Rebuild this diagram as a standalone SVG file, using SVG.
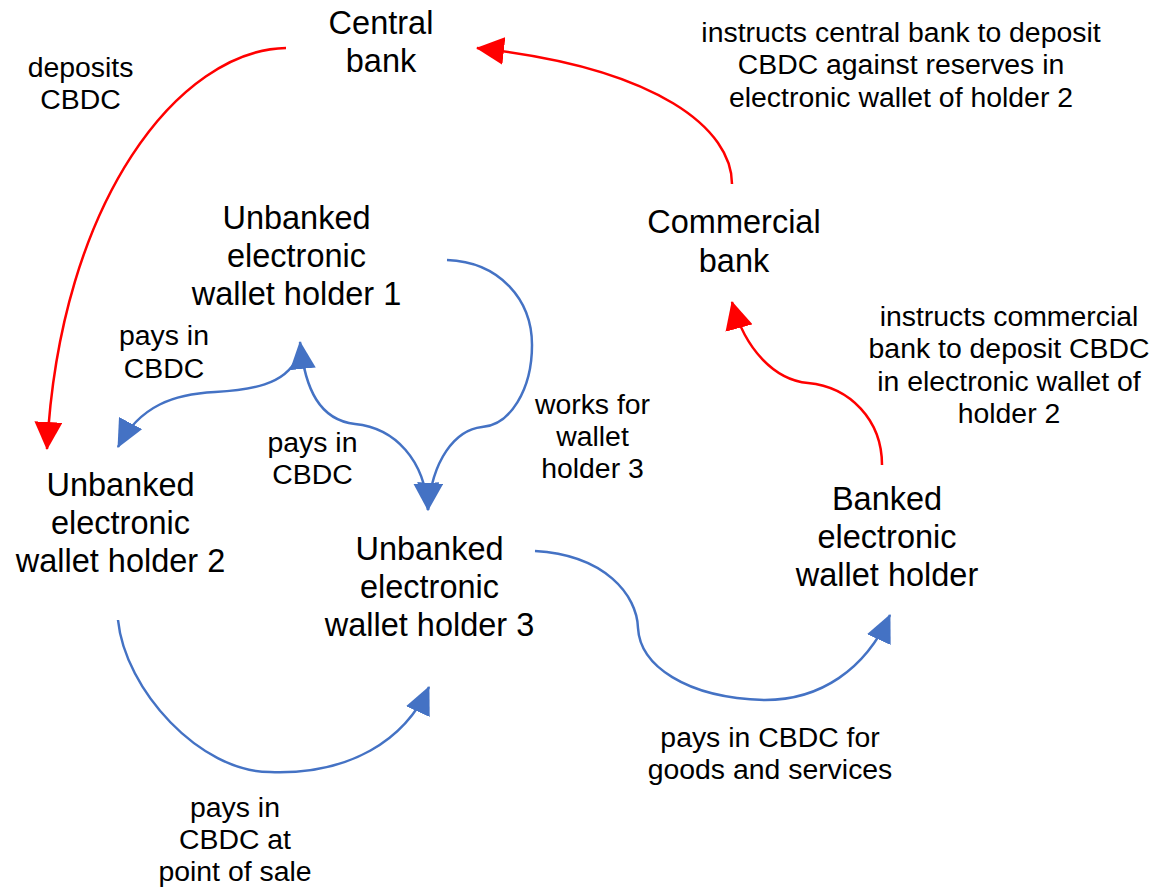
<svg xmlns="http://www.w3.org/2000/svg" width="1154" height="888" viewBox="0 0 1154 888">
<style>
.node{font-family:"Liberation Sans",Arial,sans-serif;font-size:32.5px;fill:#000;text-anchor:middle}
.lbl{font-family:"Liberation Sans",Arial,sans-serif;font-size:28.4px;fill:#000;text-anchor:middle}
.blue{fill:none;stroke:#4472C4;stroke-width:2.5}
.red{fill:none;stroke:#FF0000;stroke-width:2.5}
</style>
<defs>
<marker id="ab" viewBox="0 0 28 26" markerUnits="userSpaceOnUse" markerWidth="28" markerHeight="26" refX="27" refY="13" orient="auto-start-reverse"><path d="M0,0 L28,13 L0,26 z" fill="#4472C4"/></marker>
<marker id="ar" viewBox="0 0 28 28" markerUnits="userSpaceOnUse" markerWidth="28" markerHeight="28" refX="27" refY="14" orient="auto-start-reverse"><path d="M0,0 L28,14 L0,28 z" fill="#FF0000"/></marker>
</defs>
<rect width="1154" height="888" fill="#fff"/>
<g id="connectors">
<path class="red" d="M286,48 C180,50 60,200 47,449" marker-end="url(#ar)"/>
<path class="red" d="M732,184 C732,130 660,68 477,48" marker-end="url(#ar)"/>
<path class="red" d="M882,465 C882,420 850,387 808,383 C775,380 745,350 732,302" marker-end="url(#ar)"/>
<path class="blue" d="M297,358 C285,385 250,390 215,392 C175,394 140,405 118,447" marker-end="url(#ab)"/>
<path class="blue" d="M300,342 C305,390 320,420 355,424 C395,428 425,460 428,510" marker-start="url(#ab)" marker-end="url(#ab)"/>
<path class="blue" d="M447,260 C500,262 532,300 532,345 C532,390 510,425 482,427 C455,430 432,460 428,510" marker-end="url(#ab)"/>
<path class="blue" d="M118,620 C125,690 200,772 270,772 C350,775 405,740 429,687" marker-end="url(#ab)"/>
<path class="blue" d="M535,551 C605,555 637,595 638,628 C640,665 685,698 765,700 C820,700 865,670 890,615" marker-end="url(#ab)"/>
</g>
<g id="labels">
<text class="lbl"><tspan x="80.5" y="77">deposits</tspan><tspan x="80.5" y="109">CBDC</tspan></text>
<text class="lbl"><tspan x="901" y="42">instructs central bank to deposit</tspan><tspan x="901" y="74">CBDC against reserves in</tspan><tspan x="901" y="107">electronic wallet of holder 2</tspan></text>
<text class="lbl"><tspan x="1009" y="326">instructs commercial</tspan><tspan x="1009" y="358">bank to deposit CBDC</tspan><tspan x="1009" y="391">in electronic wallet of</tspan><tspan x="1009" y="423">holder 2</tspan></text>
<text class="lbl"><tspan x="164" y="345">pays in</tspan><tspan x="164" y="378">CBDC</tspan></text>
<text class="lbl"><tspan x="312.5" y="452">pays in</tspan><tspan x="312.5" y="484">CBDC</tspan></text>
<text class="lbl"><tspan x="592.5" y="414">works for</tspan><tspan x="592.5" y="446">wallet</tspan><tspan x="592.5" y="478">holder 3</tspan></text>
<text class="lbl"><tspan x="235" y="817">pays in</tspan><tspan x="235" y="849">CBDC at</tspan><tspan x="235" y="881">point of sale</tspan></text>
<text class="lbl"><tspan x="770" y="747">pays in CBDC for</tspan><tspan x="770" y="779">goods and services</tspan></text>
</g>
<g id="central-bank"><text class="node"><tspan x="381" y="34">Central</tspan><tspan x="381" y="72">bank</tspan></text></g>
<g id="commercial-bank"><text class="node"><tspan x="734" y="233">Commercial</tspan><tspan x="734" y="272">bank</tspan></text></g>
<g id="wallet-holder-1"><text class="node"><tspan x="296.5" y="229">Unbanked</tspan><tspan x="296.5" y="267">electronic</tspan><tspan x="296.5" y="305">wallet holder 1</tspan></text></g>
<g id="wallet-holder-2"><text class="node"><tspan x="120.5" y="496">Unbanked</tspan><tspan x="120.5" y="534">electronic</tspan><tspan x="120.5" y="572">wallet holder 2</tspan></text></g>
<g id="wallet-holder-3"><text class="node"><tspan x="429.5" y="560">Unbanked</tspan><tspan x="429.5" y="598">electronic</tspan><tspan x="429.5" y="636">wallet holder 3</tspan></text></g>
<g id="banked-holder"><text class="node"><tspan x="887" y="510">Banked</tspan><tspan x="887" y="548">electronic</tspan><tspan x="887" y="586">wallet holder</tspan></text></g>
</svg>
